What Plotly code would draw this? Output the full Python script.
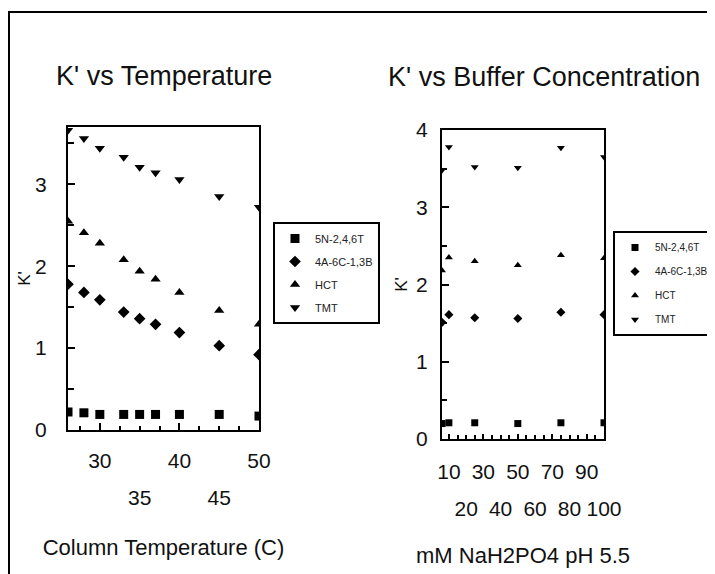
import plotly.graph_objects as go

# ---------------- data ----------------
series_names = ["5N-2,4,6T", "4A-6C-1,3B", "HCT", "TMT"]
series_symbols = ["square", "diamond", "triangle-up", "triangle-down"]

temperature = [26, 28, 30, 33, 35, 37, 40, 45, 50]
temp_5n = [0.22, 0.21, 0.19, 0.19, 0.19, 0.19, 0.19, 0.19, 0.17]
temp_4a = [1.78, 1.68, 1.59, 1.44, 1.36, 1.29, 1.19, 1.03, 0.92]
temp_hct = [2.55, 2.41, 2.28, 2.08, 1.94, 1.84, 1.68, 1.46, 1.29]
temp_tmt = [3.66, 3.56, 3.44, 3.33, 3.21, 3.14, 3.06, 2.85, 2.72]

buffer_mm = [6, 10, 25, 50, 75, 100]
buf_5n = [0.20, 0.21, 0.21, 0.20, 0.21, 0.21]
buf_4a = [1.51, 1.61, 1.57, 1.56, 1.64, 1.61]
buf_hct = [2.18, 2.35, 2.30, 2.25, 2.38, 2.34]
buf_tmt = [3.48, 3.78, 3.52, 3.51, 3.77, 3.65]

temp_ticks_row1 = [30, 40, 50]
temp_ticks_row2 = [35, 45]
buf_ticks_row1 = [10, 30, 50, 70, 90]
buf_ticks_row2 = [20, 40, 60, 80, 100]

FONT = "Liberation Sans Narrow, Liberation Sans, Arial, sans-serif"
W, H = 715, 574
OFF = 8  # page body margin in the browser

fig = go.Figure()

temp_vals = [temp_5n, temp_4a, temp_hct, temp_tmt]
buf_vals = [buf_5n, buf_4a, buf_hct, buf_tmt]

for name, sym, ys in zip(series_names, series_symbols, temp_vals):
    fig.add_trace(go.Scatter(
        x=temperature, y=ys, mode="markers", name=name,
        marker=dict(symbol=sym, size=9, color="black"),
        xaxis="x", yaxis="y", legend="legend", legendgroup="L" + name,
    ))
for name, sym, ys in zip(series_names, series_symbols, buf_vals):
    fig.add_trace(go.Scatter(
        x=buffer_mm, y=ys, mode="markers", name=name,
        marker=dict(symbol=sym, size=7, color="black"),
        xaxis="x2", yaxis="y2", legend="legend2", legendgroup="R" + name,
    ))
# empty carriers so the staggered second-row tick axes get drawn
fig.add_trace(go.Scatter(x=[], y=[], xaxis="x3", yaxis="y",
                         showlegend=False, hoverinfo="skip"))
fig.add_trace(go.Scatter(x=[], y=[], xaxis="x4", yaxis="y2",
                         showlegend=False, hoverinfo="skip"))


def px_x(p):
    return (p - OFF) / W


def px_y(p):
    return 1 - (p - OFF) / H


TICKFONT = dict(family=FONT, size=21, color="#111")
axis_common = dict(
    showline=True, linecolor="black", linewidth=2, mirror=True,
    ticks="inside", tickcolor="black", tickwidth=1.5,
    showgrid=False, zeroline=False,
    tickfont=TICKFONT,
)

left_dom_x = [px_x(68), px_x(259)]
left_dom_y = [px_y(430), px_y(127)]
right_dom_x = [px_x(442), px_x(604)]
right_dom_y = [px_y(439), px_y(130)]

fig.update_layout(
    width=W, height=H,
    margin=dict(l=0, r=0, t=0, b=0, autoexpand=False),
    paper_bgcolor="white", plot_bgcolor="white",
    font=dict(family=FONT, color="#111"),
    xaxis=dict(
        **axis_common, domain=left_dom_x, anchor="y", range=[26, 50],
        tickmode="array", tickvals=temp_ticks_row1, ticklen=7,
        ticklabelstandoff=11,
        minor=dict(tickmode="linear", tick0=25, dtick=2.5, ticklen=4,
                   ticks="inside", tickcolor="black", tickwidth=1.5),
        title=dict(text="Column Temperature (C)", standoff=68,
                   font=dict(family=FONT, size=22, color="#111")),
    ),
    xaxis3=dict(
        overlaying="x", anchor="y", range=[26, 50], side="bottom",
        showline=False, showgrid=False, zeroline=False, ticks="",
        tickmode="array", tickvals=temp_ticks_row2,
        ticklabelstandoff=53,
        tickfont=TICKFONT,
    ),
    yaxis=dict(
        **axis_common, domain=left_dom_y, anchor="x", range=[0, 3.7],
        tickmode="linear", tick0=0, dtick=1, ticklen=7,
        ticklabelstandoff=15,
        minor=dict(tickmode="linear", tick0=0, dtick=0.5, ticklen=6,
                   ticks="inside", tickcolor="black", tickwidth=1.5),
        title=dict(text="K'", standoff=0,
                   font=dict(family=FONT, size=17, color="#111")),
    ),
    xaxis2=dict(
        **axis_common, domain=right_dom_x, anchor="y2", range=[6, 100],
        tickmode="array", tickvals=buf_ticks_row1, ticklen=5,
        ticklabelstandoff=13,
        minor=dict(tickmode="linear", tick0=0, dtick=5, ticklen=4,
                   ticks="inside", tickcolor="black", tickwidth=1.5),
        title=dict(text="mM NaH2PO4 pH 5.5", standoff=65,
                   font=dict(family=FONT, size=22, color="#111")),
    ),
    xaxis4=dict(
        overlaying="x2", anchor="y2", range=[6, 100], side="bottom",
        showline=False, showgrid=False, zeroline=False, ticks="",
        tickmode="array", tickvals=buf_ticks_row2,
        ticklabelstandoff=55,
        tickfont=TICKFONT,
    ),
    yaxis2=dict(
        **axis_common, domain=right_dom_y, anchor="x2", range=[0, 4],
        tickmode="linear", tick0=0, dtick=1, ticklen=7,
        ticklabelstandoff=8,
        minor=dict(tickmode="linear", tick0=0, dtick=0.5, ticklen=5,
                   ticks="inside", tickcolor="black", tickwidth=1.5),
        title=dict(text="K'", standoff=4,
                   font=dict(family=FONT, size=17, color="#111")),
    ),
    legend=dict(
        x=px_x(273), y=px_y(222), xanchor="left", yanchor="top",
        bordercolor="black", borderwidth=2, bgcolor="white",
        font=dict(family=FONT, size=11, color="#222"),
        traceorder="grouped", tracegroupgap=4,
    ),
    legend2=dict(
        x=px_x(613), y=px_y(231), xanchor="left", yanchor="top",
        bordercolor="black", borderwidth=2, bgcolor="white",
        font=dict(family=FONT, size=10, color="#222"),
        traceorder="grouped", tracegroupgap=5,
    ),
    showlegend=True,
    annotations=[
        dict(text="K' vs Temperature", x=px_x(164), y=px_y(76),
             xref="paper", yref="paper", showarrow=False,
             xanchor="center", yanchor="middle",
             font=dict(family=FONT, size=27, color="#111")),
        dict(text="K' vs Buffer Concentration", x=px_x(544), y=px_y(77),
             xref="paper", yref="paper", showarrow=False,
             xanchor="center", yanchor="middle",
             font=dict(family=FONT, size=27, color="#111")),
    ],
    shapes=[
        dict(type="rect", xref="paper", yref="paper",
             x0=px_x(9), y0=-0.02, x1=1.02, y1=px_y(12),
             line=dict(color="black", width=2), fillcolor="rgba(0,0,0,0)",
             layer="below"),
    ],
)

fig.write_html("out.html")
